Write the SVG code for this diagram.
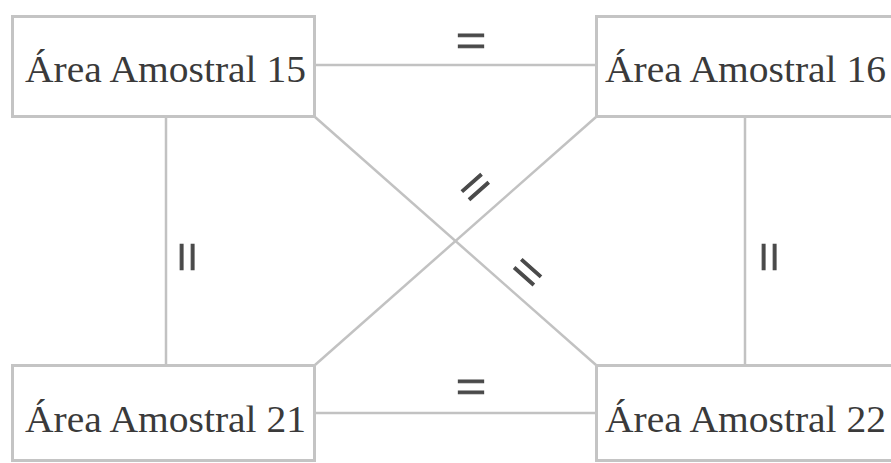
<svg xmlns="http://www.w3.org/2000/svg" width="891" height="463" viewBox="0 0 891 463">
  <style>
    .box { fill: #ffffff; stroke: #c4c4c4; stroke-width: 3; }
    .edge { stroke: #c2c2c2; stroke-width: 2.5; fill: none; }
    .name { font-family: "Liberation Serif", "Times New Roman", serif; font-size: 38px; fill: #3a3a3a; }
    .eq { font-family: "Liberation Serif", "Times New Roman", serif; font-size: 54px; fill: #4a4a4a; stroke: #4a4a4a; stroke-width: 1.2; text-anchor: middle; }
  </style>
  <rect width="891" height="463" fill="#ffffff"/>

  <!-- connectors with their equality marks -->
  <g id="connectors">
    <line class="edge" x1="315" y1="65" x2="596" y2="65"/>
    <line class="edge" x1="315" y1="413" x2="596" y2="413"/>
    <line class="edge" x1="166" y1="117" x2="166" y2="365"/>
    <line class="edge" x1="745" y1="117" x2="745" y2="365"/>
    <line class="edge" x1="315" y1="117" x2="596" y2="365"/>
    <line class="edge" x1="596" y1="117" x2="315" y2="365"/>

    <g transform="translate(471,45)"><text class="eq" y="14">=</text></g>
    <g transform="translate(471,391)"><text class="eq" y="14">=</text></g>
    <g transform="translate(183,257) rotate(90)"><text class="eq" y="14">=</text></g>
    <g transform="translate(765,257) rotate(90)"><text class="eq" y="14">=</text></g>
    <g transform="translate(478,190) rotate(-41.5)"><text class="eq" y="14">=</text></g>
    <g transform="translate(525,275) rotate(41.5)"><text class="eq" y="14">=</text></g>
  </g>

  <g id="area15">
    <rect class="box" x="12.5" y="16.5" width="302" height="100"/>
    <text class="name" x="25" y="82" textLength="281" lengthAdjust="spacingAndGlyphs">Área Amostral 15</text>
  </g>
  <g id="area16">
    <rect class="box" x="596.5" y="16.5" width="302" height="100"/>
    <text class="name" x="605" y="82" textLength="281" lengthAdjust="spacingAndGlyphs">Área Amostral 16</text>
  </g>
  <g id="area21">
    <rect class="box" x="12.5" y="365.5" width="302" height="95"/>
    <text class="name" x="25" y="432" textLength="281" lengthAdjust="spacingAndGlyphs">Área Amostral 21</text>
  </g>
  <g id="area22">
    <rect class="box" x="596.5" y="365.5" width="302" height="95"/>
    <text class="name" x="605" y="432" textLength="281" lengthAdjust="spacingAndGlyphs">Área Amostral 22</text>
  </g>
</svg>
